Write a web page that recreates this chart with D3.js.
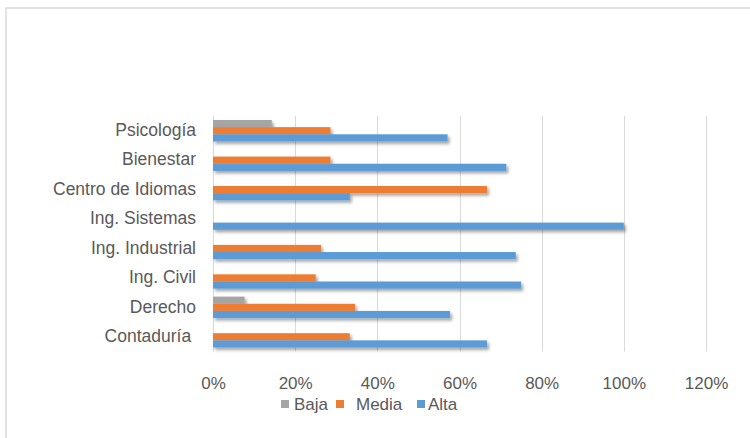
<!DOCTYPE html>
<html>
<head>
<meta charset="utf-8">
<script src="https://cdn.jsdelivr.net/npm/d3@7"></script>
<style>
  html, body { margin: 0; padding: 0; background: #fff; }
  svg { display: block; }
  text { font-family: "Liberation Sans", Arial, sans-serif; fill: #595959; white-space: pre; }
</style>
</head>
<body>
<svg id="chart" width="750" height="438"></svg>
<script>
// Categories, bottom to top (Excel order)
const categories = ["Contaduría ", "Derecho", "Ing. Civil", "Ing. Industrial", "Ing. Sistemas", "Centro de Idiomas", "Bienestar", "Psicología"];
const seriesNames = ["Baja", "Media", "Alta"];
const baja  = [0,      0.077, 0,    0,     0,   0,     0,     0.143];
const media = [0.333,  0.346, 0.25, 0.263, 0,   0.667, 0.286, 0.286];
const alta  = [0.667,  0.577, 0.75, 0.737, 1.0, 0.333, 0.714, 0.571];
const xTicks = [0, 0.2, 0.4, 0.6, 0.8, 1.0, 1.2];
const colors = ["#A5A5A5", "#ED7D31", "#5B9BD5"];

const seriesValues = [baja, media, alta];

const svg = d3.select("#chart");

// shadow filter
const defs = svg.append("defs");
const f = defs.append("filter").attr("id", "shadow").attr("x", "-5%").attr("y", "-60%").attr("width", "115%").attr("height", "260%");
f.append("feDropShadow").attr("dx", 2).attr("dy", 2.5).attr("stdDeviation", 1.5)
  .attr("flood-color", "#000").attr("flood-opacity", 0.35);

// chart frame
svg.append("rect").attr("x", 6).attr("y", 8).attr("width", 760).attr("height", 450)
  .attr("fill", "none").attr("stroke", "#d9d9d9").attr("stroke-width", 1.5);

const x = d3.scaleLinear().domain([0, 1.2]).range([213, 706]);
// top-most category = last in array
const y = d3.scaleBand().domain(categories.slice().reverse()).range([116, 351.5]).paddingInner(0).paddingOuter(0);
const gapFrac = 0.27;
const ys = d3.scaleBand().domain(seriesNames)
  .range([y.bandwidth() * gapFrac / 2, y.bandwidth() * (1 - gapFrac / 2)]);

// gridlines
svg.append("g").selectAll("line").data(xTicks).join("line")
  .attr("x1", d => Math.round(x(d)) + 0.5).attr("x2", d => Math.round(x(d)) + 0.5)
  .attr("y1", 116).attr("y2", 351.5)
  .attr("stroke", "#d9d9d9").attr("stroke-width", 1);

// x axis labels via d3 axis
const xAxis = d3.axisBottom(x).tickValues(xTicks).tickFormat(d3.format(".0%")).tickSize(0).tickPadding(0);
const gx = svg.append("g").attr("transform", "translate(0,376)").call(xAxis);
gx.select(".domain").remove();
gx.selectAll("text").attr("font-size", 17).attr("fill", "#595959")
  .attr("font-family", "Liberation Sans, Arial, sans-serif").attr("dy", "0.75em");

// category labels
const yAxis = d3.axisLeft(y).tickSize(0).tickPadding(0);
const gy = svg.append("g").attr("transform", "translate(196,0)").call(yAxis);
gy.select(".domain").remove();
gy.selectAll("text").attr("font-size", 17.5).attr("fill", "#595959")
  .attr("font-family", "Liberation Sans, Arial, sans-serif").attr("dy", "0.3em")
  .style("white-space", "pre");

// bars
const barsG = svg.append("g");
seriesNames.forEach((s, si) => {
  barsG.append("g").attr("filter", "url(#shadow)")
    .selectAll("rect").data(categories.map((c, i) => ({ c, v: seriesValues[si][i] })))
    .join("rect")
    .attr("x", x(0))
    .attr("y", d => y(d.c) + ys(s))
    .attr("width", d => Math.max(0, x(d.v) - x(0)))
    .attr("height", ys.bandwidth())
    .attr("fill", colors[si]);
});

// legend
const legendItems = [
  { name: "Baja", sx: 281, tx: 294 },
  { name: "Media", sx: 336, tx: 356 },
  { name: "Alta", sx: 417, tx: 428 }
];
const lg = svg.append("g");
legendItems.forEach((it, i) => {
  lg.append("rect").attr("x", it.sx).attr("y", 400).attr("width", 8).attr("height", 8).attr("fill", colors[i]);
  lg.append("text").attr("x", it.tx).attr("y", 410).attr("font-size", 17).text(seriesNames[i]);
});
</script>
</body>
</html>
